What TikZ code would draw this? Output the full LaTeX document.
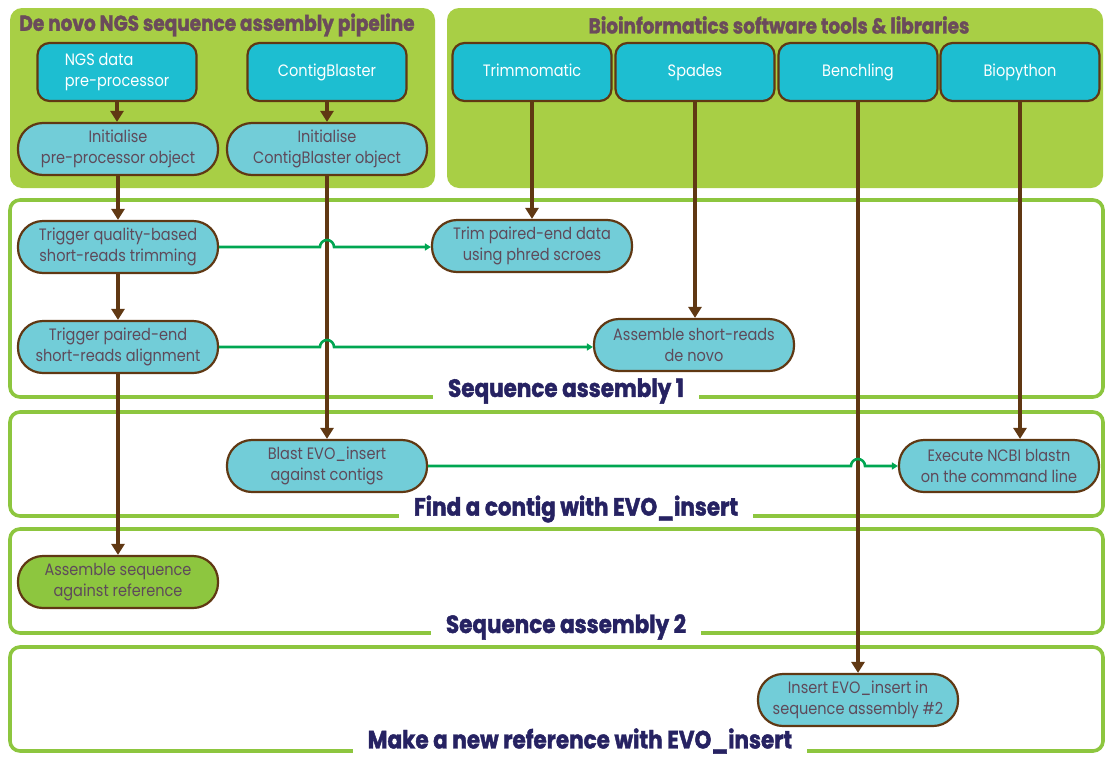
\documentclass[tikz,border=0pt]{standalone}
\usepackage{fontspec}
\setmainfont{Poppins}[FakeStretch=0.88]
\newfontfamily\heavyfont{Poppins}[FakeStretch=0.86, BoldFeatures={FakeBold=1.6}]
\usetikzlibrary{calc,arrows.meta}
\definecolor{panel}{HTML}{A8CF45}
\definecolor{secgreen}{HTML}{8DC63F}
\definecolor{tool}{HTML}{1DBED1}
\definecolor{light}{HTML}{72CDD8}
\definecolor{brownc}{HTML}{603813}
\definecolor{nodetext}{HTML}{5E4A5A}
\definecolor{titletext}{HTML}{6B4B5B}
\definecolor{navy}{HTML}{262262}
\definecolor{linkgreen}{HTML}{00A651}
\tikzset{
  panelbox/.style={fill=panel, rounded corners=12pt},
  toolbox/.style={draw=brownc, line width=2.2pt, fill=tool, rounded corners=12pt, text=white,
    font=\fontsize{16.5}{21}\selectfont, minimum width=159pt, minimum height=58pt, inner sep=0pt},
  stepnode/.style={draw=brownc, line width=2.2pt, fill=light, rounded corners=25pt, text=nodetext,
    align=center, font=\fontsize{16.5}{21}\selectfont, minimum width=200pt, minimum height=52pt, inner sep=0pt},
  section/.style={draw=secgreen, line width=3.6pt, rounded corners=10pt},
  seclabel/.style={fill=white, text=navy, font=\heavyfont\bfseries\fontsize{25}{27}\selectfont, inner xsep=15pt, inner ysep=1pt},
  paneltitle/.style={text=titletext, font=\heavyfont\bfseries\fontsize{21.5}{23}\selectfont},
  flow/.style={draw=brownc, line width=3.5pt, -{Triangle[length=11pt,width=13pt]}},
  link/.style={draw=linkgreen, line width=2.6pt, -{Triangle[length=6pt,width=7pt]}}
}
\begin{document}
\begin{tikzpicture}[x=1pt,y=-1pt]
\useasboundingbox (0,0) rectangle (1105,758);
% panels
\path[panelbox] (10,8) rectangle (435,188);
\path[panelbox] (447,8) rectangle (1103,188);
\node[paneltitle] (t1) at (217,25) {De novo NGS sequence assembly pipeline};
\node[paneltitle] (t2) at (779,25) {Bioinformatics software tools \& libraries};
% sections
\draw[section] (10,200) rectangle (1103,397);
\draw[section] (10,412) rectangle (1103,516);
\draw[section] (10,529) rectangle (1103,633);
\draw[section] (10,647) rectangle (1103,751);
\node[seclabel] (s1) at (566,391) {Sequence assembly 1};
\node[seclabel] (s2) at (576,509) {Find a contig with EVO\_insert};
\node[seclabel] (s3) at (566,627) {Sequence assembly 2};
\node[seclabel] (s4) at (580,741) {Make a new reference with EVO\_insert};
% top boxes
\node[toolbox, align=left] (ngs) at (117,72) {NGS data\\pre-processor};
\node[toolbox, text height=12pt, text depth=3pt] (cb) at (327,72) {ContigBlaster};
\node[toolbox, text height=12pt, text depth=3pt] (trimm) at (532,72) {Trimmomatic};
\node[toolbox, text height=12pt, text depth=3pt] (spades) at (695,72) {Spades};
\node[toolbox, text height=12pt, text depth=3pt] (bench) at (858,72) {Benchling};
\node[toolbox, text height=12pt, text depth=3pt] (biopy) at (1020,72) {Biopython};
% steps
\node[stepnode] (ipp) at (118,149) {Initialise\\pre-processor object};
\node[stepnode] (icb) at (327,149) {Initialise\\ContigBlaster object};
\node[stepnode] (tq) at (118,247) {Trigger quality-based\\short-reads trimming};
\node[stepnode] (tp) at (118,347) {Trigger paired-end\\short-reads alignment};
\node[stepnode] (trim) at (532,246) {Trim paired-end data\\using phred scroes};
\node[stepnode] (asr) at (694,345) {Assemble short-reads\\de novo};
\node[stepnode] (blast) at (327,466) {Blast EVO\_insert\\against contigs};
\node[stepnode] (exe) at (999,466) {Execute NCBI blastn\\on the command line};
\node[stepnode, fill=secgreen] (asm) at (118,582) {Assemble sequence\\against reference};
\node[stepnode] (ins) at (858,700) {Insert EVO\_insert in\\sequence assembly \#2};
% brown flows
\draw[flow] (ngs.south) -- (ngs.south |- ipp.north);
\draw[flow] (cb.south) -- (cb.south |- icb.north);
\draw[flow] (ipp.south) -- (tq.north);
\draw[flow] (tq.south) -- (tp.north);
\draw[flow] (tp.south) -- (asm.north);
\draw[flow] (icb.south) -- (blast.north);
\draw[flow] (trimm.south) -- (trimm.south |- trim.north);
\draw[flow] (spades.south) -- (spades.south |- asr.north);
\draw[flow] (bench.south) -- (bench.south |- ins.north);
\draw[flow] (biopy.south) -- (biopy.south |- exe.north);
% green links with hops
\draw[link] (tq.east) -- ($(tq.east -| icb.south)+(-7pt,0)$) arc[start angle=180,end angle=0,radius=7pt] -- (tq.east -| trim.west);
\draw[link] (tp.east) -- ($(tp.east -| icb.south)+(-7pt,0)$) arc[start angle=180,end angle=0,radius=7pt] -- (tp.east -| asr.west);
\draw[link] (blast.east) -- ($(blast.east -| bench.south)+(-7pt,0)$) arc[start angle=180,end angle=0,radius=7pt] -- (exe.west);
\end{tikzpicture}
\end{document}
